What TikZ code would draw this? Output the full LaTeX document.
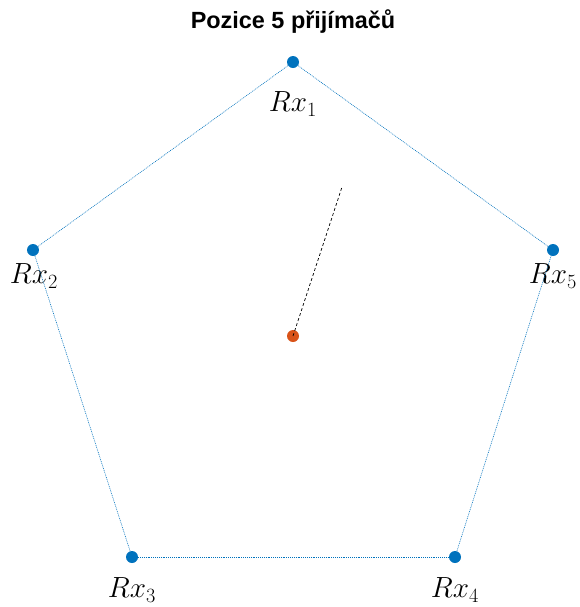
\documentclass[tikz,border=0pt]{standalone}
\usepackage{fontspec}
\newfontfamily\titlefont{Liberation Sans}
\usetikzlibrary{positioning}
\definecolor{rxblue}{RGB}{0,114,189}
\definecolor{txorange}{RGB}{217,83,25}
\tikzset{
  rx/.style={circle,fill=rxblue,inner sep=0pt,minimum size=3.6mm},
  tx/.style={circle,fill=txorange,inner sep=0pt,minimum size=3.6mm},
  rxlabel/.style={font=\fontsize{25}{30}\selectfont,inner sep=0pt},
  edge/.style={draw=rxblue,line width=0.5pt,dash pattern=on 0.8pt off 0.8pt},
  aim/.style={draw=black,line width=0.6pt,dash pattern=on 2.5pt off 2pt},
  heading/.style={font=\titlefont\bfseries\fontsize{20}{24}\selectfont},
}
\begin{document}
\begin{tikzpicture}[x=0.03cm,y=-0.03cm]
  \useasboundingbox (0,0) rectangle (579,607);
  \node[heading] (title) at (293,22) {Pozice 5 přijímačů};
  % receivers
  \foreach \n/\x/\y/\lx/\ly in {1/293/62/293/104,2/33/250/34/276,3/132/557/132/590,4/455/557/455/590,5/553/250/553/276}{
    \node[rx] (rx\n) at (\x,\y) {};
    \node[rxlabel] (l\n) at (\lx,\ly) {$Rx_{\n}$};
  }
  \draw[edge] (rx1) -- (rx2);
  \draw[edge] (rx2) -- (rx3);
  \draw[edge] (rx3) -- (rx4);
  \draw[edge] (rx4) -- (rx5);
  \draw[edge] (rx5) -- (rx1);
  % transmitter
  \node[tx] (tx) at (293,336) {};
  \coordinate (dir) at (342,187);
  \draw[aim] (tx.center) -- (dir);
\end{tikzpicture}
\end{document}
